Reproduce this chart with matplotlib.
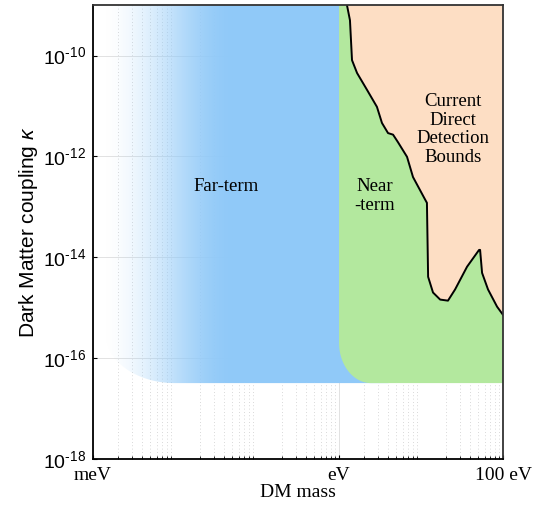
import numpy as np
import matplotlib
matplotlib.use("Agg")
import matplotlib.pyplot as plt
from matplotlib.patches import Polygon
from matplotlib.ticker import FixedLocator, LogLocator, NullFormatter

# ---- data ----
# current direct detection bound (eV, kappa)
bound_mass = [1.25, 1.36, 1.44, 1.66, 2.19, 2.90, 3.34, 3.96, 4.56, 5.25, 6.75,
              7.98, 11.2, 11.8, 12.2, 14.0, 17.1, 21.3, 26.0, 36.4, 51.0, 52.5,
              55.5, 65.6, 84.5, 100.0]
bound_kappa = [1e-9, 5.0e-10, 8.1e-11, 4.5e-11, 2.1e-11, 9.6e-12, 4.6e-12, 2.9e-12,
               2.7e-12, 1.9e-12, 9.8e-13, 3.9e-13, 1.4e-13, 1.2e-13, 4.1e-15,
               2.0e-15, 1.45e-15, 1.38e-15, 2.3e-15, 6.5e-15, 1.4e-14, 1.4e-14,
               4.9e-15, 2.3e-15, 1.05e-15, 7.2e-16]

far_mass = [1.4e-3, 1.0]      # far-term reach in mass
near_mass = [1.0, 100.0]      # near-term reach in mass
kappa_floor = 3.2e-17         # projected sensitivity floor
kappa_top = 1e-9

xticks = [1e-3, 1.0, 100.0]
xticklabels = ["meV", "eV", "100 eV"]
yticks = [1e-18, 1e-16, 1e-14, 1e-12, 1e-10]
yticklabels = ["10$^{\\text{-}18}$", "10$^{\\text{-}16}$", "10$^{\\text{-}14}$",
               "10$^{\\text{-}12}$", "10$^{\\text{-}10}$"]

xlim = (1e-3, 100.0)
ylim = (1e-18, 1e-9)

blue = (0.565, 0.792, 0.976)
green = (0.70, 0.91, 0.62)
peach = (0.992, 0.871, 0.769)

plt.rcParams['mathtext.fontset'] = 'custom'
plt.rcParams['mathtext.rm'] = 'Liberation Sans'
plt.rcParams['mathtext.it'] = 'Liberation Sans:italic'
plt.rcParams['mathtext.default'] = 'regular'


def rounded_box(x0, x1, y0, y1, rx, ry, n=40):
    # box in log space with a rounded lower-left corner, returned in data units
    lx0, lx1, ly0, ly1 = np.log10(x0), np.log10(x1), np.log10(y0), np.log10(y1)
    th = np.linspace(np.pi, 1.5 * np.pi, n)
    cx, cy = lx0 + rx, ly0 + ry
    px = np.concatenate([[lx0], cx + rx * np.cos(th), [lx1, lx1]])
    py = np.concatenate([[ly1], cy + ry * np.sin(th), [ly0, ly1]])
    return np.column_stack([10 ** px, 10 ** py])


fig = plt.figure(figsize=(5.39, 5.12), dpi=100)
ax = fig.add_axes([0.1725, 0.1035, 0.7608, 0.8865])
ax.set_xscale('log')
ax.set_yscale('log')
ax.set_xlim(*xlim)
ax.set_ylim(*ylim)

# grid
ax.xaxis.set_minor_locator(LogLocator(base=10, subs=np.arange(2, 10)))
ax.xaxis.set_minor_formatter(NullFormatter())
ax.yaxis.set_minor_locator(FixedLocator([]))
ax.grid(True, which='major', color='#dddddd', lw=0.6, zorder=0)
ax.grid(True, which='minor', axis='x', color='#cccccc', lw=0.6, ls=(0, (1, 3)), zorder=0)
ax.set_axisbelow(True)

# far-term: gradient clipped to rounded box (runs on under the near-term corner)
far_verts = rounded_box(far_mass[0], far_mass[1] * 4, kappa_floor, kappa_top, 0.85, 1.0)
far_clip = Polygon(far_verts, closed=True, transform=ax.transData, facecolor='none', edgecolor='none')
ax.add_patch(far_clip)
frac = np.linspace(0, 1, 600)
lx = np.log10(xlim[0]) + frac * (np.log10(xlim[1]) - np.log10(xlim[0]))
t = np.clip((lx + 2.9) / (2.9 - 1.3), 0, 1)
alpha = t * t * (3 - 2 * t)
grad = np.zeros((1, len(frac), 4))
grad[..., 0] = blue[0]
grad[..., 1] = blue[1]
grad[..., 2] = blue[2]
grad[..., 3] = alpha
im = ax.imshow(grad, extent=[0, 1, 0, 1], transform=ax.transAxes, aspect='auto',
               interpolation='bilinear', zorder=1)
im.set_clip_path(far_clip)

# near-term
near_verts = rounded_box(near_mass[0], near_mass[1], kappa_floor, kappa_top, 0.39, 0.8)
ax.add_patch(Polygon(near_verts, closed=True, facecolor=green, edgecolor='none', zorder=2))

# current bounds
bx = list(bound_mass) + [xlim[1]]
by = list(bound_kappa) + [ylim[1]]
ax.fill(bx, by, color=peach, lw=0, zorder=3)
ax.plot(bound_mass, bound_kappa, color='k', lw=1.4, zorder=4)

ax.set_xlim(*xlim)
ax.set_ylim(*ylim)

# labels
serif = 'Liberation Serif'
sans = 'Liberation Sans'
ax.text(0.042, 2.5e-13, "Far-term", family=serif, fontsize=13.5, ha='center', va='center', zorder=5)
ax.text(2.75, 1.65e-13, "Near\n-term", family=serif, fontsize=13.5, ha='center', va='center',
        linespacing=1.1, zorder=5)
ax.text(24.6, 3.4e-12, "Current\nDirect\nDetection\nBounds", family=serif, fontsize=13.5,
        ha='center', va='center', linespacing=1.12, zorder=5)

ax.set_xticks(xticks)
ax.set_xticklabels(xticklabels, family=serif, fontsize=14)
ax.set_yticks(yticks)
ax.set_yticklabels(yticklabels, family=sans, fontsize=14, va='center_baseline')
ax.tick_params(axis='both', which='major', direction='in', length=3, width=0.8)
ax.tick_params(axis='x', which='minor', direction='in', length=2, width=0.6)
ax.tick_params(axis='x', which='major', pad=6)
ax.tick_params(axis='y', which='major', pad=5)
ax.set_xlabel("DM mass", family=serif, fontsize=14, labelpad=0)
ax.set_ylabel("Dark Matter coupling $\\mathit{\\kappa}$", family=sans, fontsize=15, labelpad=2)

for s in ax.spines.values():
    s.set_linewidth(1.3)
    s.set_zorder(6)
ax.spines['top'].set_color('#333333')
ax.spines['right'].set_color('#333333')

fig.savefig("out.png", dpi=100)
